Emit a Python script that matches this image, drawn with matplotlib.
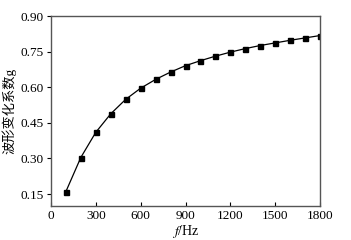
import matplotlib
matplotlib.use("Agg")
import matplotlib.pyplot as plt

freq = [100, 200, 300, 400, 500, 600, 700, 800, 900, 1000,
        1100, 1200, 1300, 1400, 1500, 1600, 1700, 1800]
coef = [0.160, 0.304, 0.410, 0.488, 0.549, 0.596, 0.633, 0.664, 0.691,
        0.712, 0.731, 0.748, 0.763, 0.776, 0.787, 0.798, 0.808, 0.818]
xticks = [0, 300, 600, 900, 1200, 1500, 1800]
yticks = [0.15, 0.30, 0.45, 0.60, 0.75, 0.90]

plt.rcParams['font.family'] = ['Liberation Serif', 'Noto Sans CJK SC']
plt.rcParams['mathtext.fontset'] = 'stix'

fig = plt.figure(figsize=(3.51, 2.40), dpi=100)
ax = fig.add_axes([0.145, 0.142, 0.767, 0.791])

ax.plot(freq, coef, color='black', lw=0.9, marker='s', ms=3.6)

ax.set_xlim(0, 1800)
ax.set_ylim(0.10, 0.90)
ax.set_xticks(xticks)
ax.set_yticks(yticks)
ax.set_yticklabels([f"{v:.2f}" for v in yticks])
ax.tick_params(axis='x', direction='in', length=3, width=0.8, labelsize=9.5, pad=3)
ax.tick_params(axis='y', direction='out', length=3, width=0.8, labelsize=9.5, pad=2)
for s in ax.spines.values():
    s.set_color('#555555')
    s.set_linewidth(1.0)

ax.set_xlabel('$f$/Hz', fontsize=10, labelpad=1)
ax.set_ylabel('波形变化系数g', fontsize=9.5, labelpad=3)

fig.savefig('out.png', dpi=100)
